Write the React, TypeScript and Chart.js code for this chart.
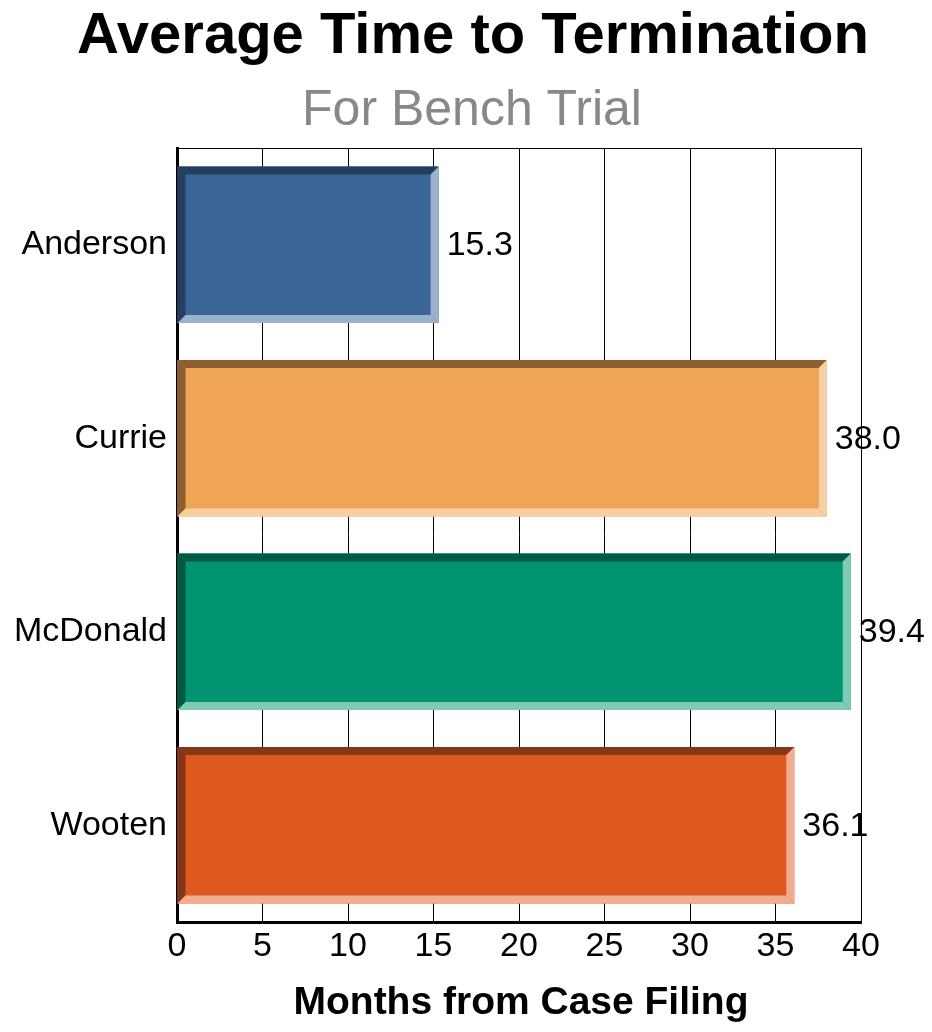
import React, { useEffect, useRef } from "react";
import { Chart, registerables } from "chart.js";

Chart.register(...registerables);

const categories = ["Anderson", "Currie", "McDonald", "Wooten"];
const values = [15.3, 38.0, 39.4, 36.1];
const fillColors = ["#3A6596", "#F0A455", "#009471", "#DE5920"];
const darkColors = ["#243E5D", "#8C5E30", "#005A43", "#863618"];
const lightColors = ["#9BB2CC", "#F8CFA2", "#7FCBB5", "#F2AC8F"];
const xTicks = [0, 5, 10, 15, 20, 25, 30, 35, 40];
const titleText = "Average Time to Termination";
const subtitleText = "For Bench Trial";
const xTitleText = "Months from Case Filing";

const FONT = "'Liberation Sans', Arial, sans-serif";

const bevelPlugin = {
  id: "bevel",
  beforeDatasetsDraw(chart: any) {
    const { ctx, chartArea } = chart;
    ctx.save();
    ctx.strokeStyle = "#000";
    ctx.lineWidth = 1;
    ctx.beginPath();
    ctx.moveTo(chartArea.left, chartArea.top + 0.5);
    ctx.lineTo(chartArea.right + 0.5, chartArea.top + 0.5);
    ctx.lineTo(chartArea.right + 0.5, chartArea.bottom);
    ctx.stroke();
    ctx.restore();
  },
  afterDatasetsDraw(chart: any) {
    const { ctx } = chart;
    const meta = chart.getDatasetMeta(0);
    const b = 8;
    meta.data.forEach((bar: any, i: number) => {
      const p = bar.getProps(["x", "y", "base", "height"], true);
      const l = Math.min(p.base, p.x);
      const r = Math.max(p.base, p.x);
      const t = p.y - p.height / 2;
      const btm = p.y + p.height / 2;
      ctx.save();
      ctx.fillStyle = darkColors[i];
      ctx.beginPath();
      ctx.moveTo(l, t);
      ctx.lineTo(r, t);
      ctx.lineTo(r - b, t + b);
      ctx.lineTo(l + b, t + b);
      ctx.closePath();
      ctx.fill();
      ctx.beginPath();
      ctx.moveTo(l, t);
      ctx.lineTo(l + b, t + b);
      ctx.lineTo(l + b, btm - b);
      ctx.lineTo(l, btm);
      ctx.closePath();
      ctx.fill();
      ctx.fillStyle = lightColors[i];
      ctx.beginPath();
      ctx.moveTo(r, t);
      ctx.lineTo(r, btm);
      ctx.lineTo(r - b, btm - b);
      ctx.lineTo(r - b, t + b);
      ctx.closePath();
      ctx.fill();
      ctx.beginPath();
      ctx.moveTo(l, btm);
      ctx.lineTo(r, btm);
      ctx.lineTo(r - b, btm - b);
      ctx.lineTo(l + b, btm - b);
      ctx.closePath();
      ctx.fill();
      ctx.fillStyle = "#000";
      ctx.font = `34px ${FONT}`;
      ctx.textAlign = "left";
      ctx.textBaseline = "middle";
      ctx.fillText(values[i].toFixed(1), r + 8, p.y + 1);
      ctx.restore();
    });
  },
  afterDraw(chart: any) {
    const { ctx, chartArea } = chart;
    ctx.save();
    ctx.textAlign = "center";
    ctx.textBaseline = "alphabetic";
    ctx.fillStyle = "#000";
    ctx.font = `bold 58px ${FONT}`;
    ctx.fillText(titleText, 465, 45);
    ctx.fillStyle = "#888888";
    ctx.font = `50px ${FONT}`;
    ctx.fillText(subtitleText, 464, 117);
    ctx.fillStyle = "#000";
    ctx.font = `bold 39px ${FONT}`;
    ctx.fillText(xTitleText, (chartArea.left + chartArea.right) / 2 + 2, 1006);
    ctx.restore();
  },
};

export default function App() {
  const ref = useRef<HTMLCanvasElement>(null);
  useEffect(() => {
    if (!ref.current) return;
    const chart = new Chart(ref.current, {
      type: "bar",
      data: {
        labels: categories,
        datasets: [
          {
            data: values,
            backgroundColor: fillColors,
            borderWidth: 0,
            categoryPercentage: 0.81,
            barPercentage: 1,
          },
        ],
      },
      options: {
        indexAxis: "y",
        animation: false,
        responsive: true,
        maintainAspectRatio: false,
        layout: { padding: { left: 0, right: 63, top: 140, bottom: 52 } },
        plugins: {
          legend: { display: false },
          tooltip: { enabled: false },
          title: { display: false },
        },
        scales: {
          x: {
            type: "linear",
            min: 0,
            max: 40,
            afterBuildTicks: (axis: any) => {
              axis.ticks = xTicks.map((v) => ({ value: v }));
            },
            afterFit: (axis: any) => {
              axis.height = 50;
            },
            grid: { color: "#000", lineWidth: 1, drawTicks: false },
            border: { color: "#000", width: 3 },
            ticks: {
              color: "#000",
              font: { family: FONT, size: 34, lineHeight: 1.0 },
              padding: 8,
            },
          },
          y: {
            afterFit: (axis: any) => {
              axis.width = 169;
            },
            grid: { display: false, drawTicks: false },
            border: { color: "#000", width: 3 },
            ticks: {
              color: "#000",
              font: { family: FONT, size: 34 },
              padding: 10,
            },
          },
        },
      },
      plugins: [bevelPlugin],
    });
    return () => chart.destroy();
  }, []);
  return (
    <div style={{ width: 916, height: 1016 }}>
      <canvas ref={ref} />
    </div>
  );
}
